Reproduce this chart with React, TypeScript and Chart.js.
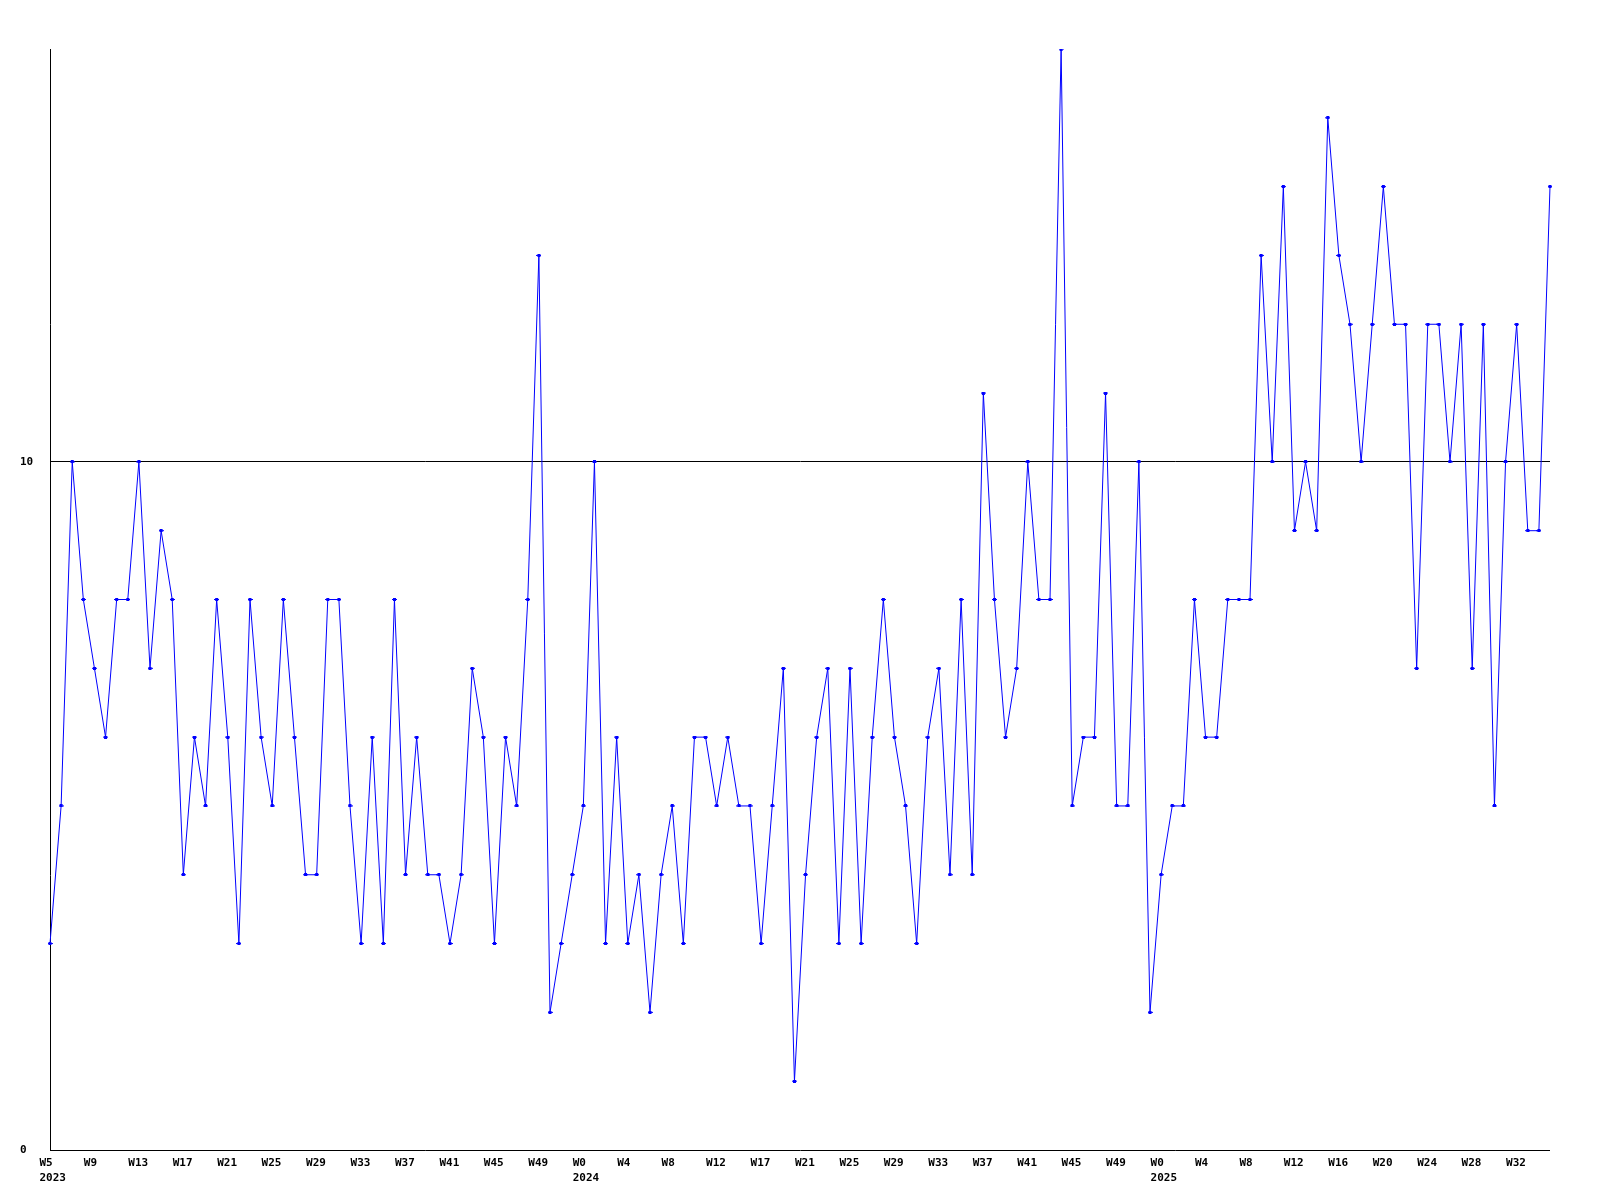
import React, { useEffect, useRef } from 'react';
import { Chart, registerables } from 'chart.js';

Chart.register(...registerables);

// Week numbers of each point, per year
const weeks2023 = [5, 6, 7, 8, 9, 10, 11, 12, 13, 14, 15, 16, 17, 18, 19, 20, 21, 22, 23, 24, 25, 26, 27, 28, 29, 30, 31, 32, 33, 34, 35, 36, 37, 38, 39, 40, 41, 42, 43, 44, 45, 46, 47, 48, 49, 50, 51, 52];
const weeks2024 = [0, 1, 2, 3, 4, 5, 6, 7, 8, 9, 10, 11, 12, 13, 14, 15, 17, 18, 19, 20, 21, 22, 23, 24, 25, 26, 27, 28, 29, 30, 31, 32, 33, 34, 35, 36, 37, 38, 39, 40, 41, 42, 43, 44, 45, 46, 47, 48, 49, 50, 51, 52];
const weeks2025 = [0, 1, 2, 3, 4, 5, 6, 7, 8, 9, 10, 11, 12, 13, 14, 15, 16, 17, 18, 19, 20, 21, 22, 23, 24, 25, 26, 27, 28, 29, 30, 31, 32, 33, 34, 35];

const years = ['2023', '2024', '2025'];

// Weekly values
const values = [
  3, 5, 10, 8, 7, 6, 8, 8, 10, 7, 9, 8, 4, 6, 5, 8, 6, 3, 8, 6, 5, 8, 6, 4, 4, 8, 8, 5,
  3, 6, 3, 8, 4, 6, 4, 4, 3, 4, 7, 6, 3, 6, 5, 8, 13, 2, 3, 4, 5, 10, 3, 6, 3, 4, 2,
  4, 5, 3, 6, 6, 5, 6, 5, 5, 3, 5, 7, 1, 4, 6, 7, 3, 7, 3, 6, 8, 6, 5, 3, 6, 7, 4,
  8, 4, 11, 8, 6, 7, 10, 8, 8, 16, 5, 6, 6, 11, 5, 5, 10, 2, 4, 5, 5, 8, 6, 6, 8, 8, 8,
  13, 10, 14, 9, 10, 9, 15, 13, 12, 10, 12, 14, 12, 12, 7, 12, 12, 10, 12, 7, 12, 5, 10, 12, 9, 9, 14,
];

const yTickValues = [0, 10];
const yMin = 0;
const yMax = 16;
const labelEvery = 4;

const FONT = { family: "'DejaVu Sans Mono', monospace", size: 11, weight: 'bold' as const, lineHeight: 15.4 / 11 };

export default function App() {
  const ref = useRef<HTMLCanvasElement>(null);

  useEffect(() => {
    const canvas = ref.current;
    if (!canvas) return;

    const marker = document.createElement('canvas');
    marker.width = 5;
    marker.height = 3;
    const mctx = marker.getContext('2d');
    if (mctx) {
      mctx.fillStyle = '#0000ff';
      mctx.fillRect(0, 1, 5, 1);
      mctx.fillRect(1, 0, 3, 3);
    }

    const groups = [weeks2023, weeks2024, weeks2025];
    const labels: string[] = [];
    const yearAt: Record<number, string> = {};
    groups.forEach((g, gi) => {
      yearAt[labels.length] = years[gi];
      g.forEach((w) => labels.push('W' + w));
    });

    const chart = new Chart(canvas, {
      type: 'line',
      data: {
        labels,
        datasets: [
          {
            data: values,
            borderColor: '#0000ff',
            borderWidth: 1,
            tension: 0,
            fill: false,
            pointStyle: marker as any,
            pointRadius: 2,
            pointHoverRadius: 2,
            pointBackgroundColor: '#0000ff',
            pointBorderWidth: 0,
          },
        ],
      },
      options: {
        animation: false,
        responsive: false,
        devicePixelRatio: 1,
        events: [],
        layout: { padding: { left: 20, top: 49, right: 50, bottom: 0 }, autoPadding: false },
        plugins: { legend: { display: false }, tooltip: { enabled: false } },
        scales: {
          x: {
            type: 'category',
            offset: false,
            position: 'bottom',
            grid: { display: false, drawTicks: false },
            border: { display: false },
            ticks: {
              autoSkip: false,
              maxRotation: 0,
              minRotation: 0,
              align: 'start',
              labelOffset: -10.6,
              padding: 5.5,
              color: '#000',
              font: FONT,
              callback: (_v: any, i: number) => {
                if (i % labelEvery !== 0) return '';
                if (yearAt[i] !== undefined) return [labels[i], yearAt[i]];
                return labels[i];
              },
            },
            afterFit: (s: any) => {
              s.height = 50;
            },
          } as any,
          y: {
            min: yMin,
            max: yMax,
            afterBuildTicks: (s: any) => {
              s.ticks = yTickValues.map((v) => ({ value: v }));
            },
            afterFit: (s: any) => {
              s.width = 30;
            },
            grid: { color: '#000', lineWidth: 1, drawTicks: false },
            border: { display: true, color: '#000', width: 1 },
            ticks: { crossAlign: 'far', padding: 0, color: '#000', font: FONT },
          },
        },
      },
    });

    return () => chart.destroy();
  }, []);

  return (
    <div style={{ position: 'absolute', left: 0, top: 0, width: 1600, height: 1200, background: '#fff' }}>
      <canvas ref={ref} width={1600} height={1200} style={{ width: 1600, height: 1200, display: 'block' }} />
    </div>
  );
}
